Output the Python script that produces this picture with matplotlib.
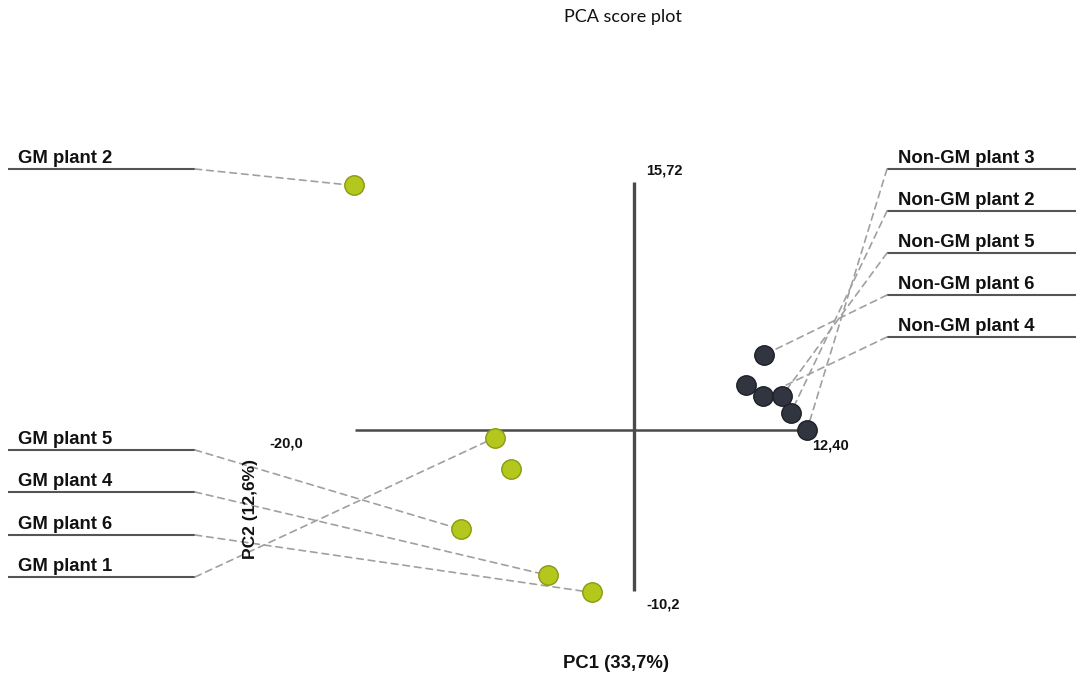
import matplotlib
matplotlib.use("Agg")
import matplotlib.pyplot as plt
from matplotlib.patches import ConnectionPatch

# ---------------- data ----------------
pc1_range = [-20.0, 12.40]
pc2_range = [-10.2, 15.72]
pc1_range_labels = ["-20,0", "12,40"]
pc2_range_labels = ["-10,2", "15,72"]

gm_names = ["GM plant 2", "GM plant 1", "GM plant 3", "GM plant 5", "GM plant 4", "GM plant 6"]
gm_pc1 = [-20.1, -10.0, -8.8, -12.4, -6.2, -3.0]
gm_pc2 = [15.5, -0.5, -2.5, -6.3, -9.2, -10.3]

ngm_names = ["Non-GM plant 6", "Non-GM plant 1", "Non-GM plant 4", "Non-GM plant 5", "Non-GM plant 2", "Non-GM plant 3"]
ngm_pc1 = [9.3, 8.0, 9.25, 10.6, 11.25, 12.4]
ngm_pc2 = [4.75, 2.85, 2.15, 2.15, 1.1, 0.0]

# labelled samples (left column / right column) in drawing order
left_labels = ["GM plant 2", "GM plant 5", "GM plant 4", "GM plant 6", "GM plant 1"]
right_labels = ["Non-GM plant 3", "Non-GM plant 2", "Non-GM plant 5", "Non-GM plant 6", "Non-GM plant 4"]

title = "PCA score plot"
xlabel = "PC1 (33,7%)"
ylabel = "PC2 (12,6%)"

# ---------------- layout ----------------
W, H = 1084, 682
fig = plt.figure(figsize=(W / 100, H / 100), dpi=100)
ax = fig.add_axes([0, 0, 1, 1])
ax.set_axis_off()

# pixel geometry of the data area
x0_px, y0_px = 634, 430
sx, sy = 13.95, 15.776
ax.set_xlim((0 - x0_px) / sx, (W - x0_px) / sx)
ax.set_ylim((y0_px - H) / sy, (y0_px - 0) / sy)

def fpx(px, py):
    return (px / W, 1 - py / H)

axis_col = "#4a4a4a"
ax.plot(pc1_range, [0, 0], color=axis_col, lw=1.8, zorder=1, solid_capstyle="butt")
ax.plot([0, 0], pc2_range, color=axis_col, lw=2.4, zorder=1, solid_capstyle="butt")

bold = dict(family=["Liberation Sans", "DejaVu Sans"], fontweight="bold", color="#111111")
ax.annotate(pc1_range_labels[0], (pc1_range[0], 0), xytext=(-52, -13), textcoords="offset pixels",
            ha="right", va="center", fontsize=10.5, **bold)
ax.annotate(pc1_range_labels[1], (pc1_range[1], 0), xytext=(5, -15), textcoords="offset pixels",
            ha="left", va="center", fontsize=10.5, **bold)
ax.annotate(pc2_range_labels[1], (0, pc2_range[1]), xytext=(12, 12), textcoords="offset pixels",
            ha="left", va="center", fontsize=10.5, **bold)
ax.annotate(pc2_range_labels[0], (0, pc2_range[0]), xytext=(12, -14), textcoords="offset pixels",
            ha="left", va="center", fontsize=10.5, **bold)

# points
green, green_edge = "#b3c71c", "#8b9a12"
dark, dark_edge = "#30353f", "#1d2028"
ax.plot(gm_pc1, gm_pc2, "o", ms=14, mfc=green, mec=green_edge, mew=1.0, ls="none", zorder=4)
ax.plot(ngm_pc1, ngm_pc2, "o", ms=14, mfc=dark, mec=dark_edge, mew=1.0, ls="none", zorder=4)

lead_col = "#a0a0a0"
under_col = "#555555"

def leader(name, xs, ys, names, line_y, side):
    i = names.index(name)
    if side == "left":
        x_a, x_b, tx, anchor = 8, 195, 18, 195
    else:
        x_a, x_b, tx, anchor = 887, 1076, 898, 887
    ax.plot([x_a / W, x_b / W], [1 - line_y / H] * 2, transform=ax.transAxes,
            color=under_col, lw=1.5, zorder=2, solid_capstyle="butt")
    ax.text(tx / W, 1 - (line_y - 6) / H, name, transform=ax.transAxes,
            ha="left", va="baseline", fontsize=13.3, **bold)
    con = ConnectionPatch(xyA=fpx(anchor, line_y), coordsA=ax.transAxes,
                          xyB=(xs[i], ys[i]), coordsB=ax.transData,
                          color=lead_col, lw=1.2, linestyle=(0, (4, 3)), zorder=3)
    ax.add_artist(con)

left_y = [169, 450, 492, 535, 577]
right_y = [169, 211, 253, 295, 337]
for name, ly in zip(left_labels, left_y):
    leader(name, gm_pc1, gm_pc2, gm_names, ly, "left")
for name, ly in zip(right_labels, right_y):
    leader(name, ngm_pc1, ngm_pc2, ngm_names, ly, "right")

fig.text(623 / W, 1 - 17 / H, title, ha="center", va="center", fontsize=13,
         family=["Lato", "DejaVu Sans"], color="#111111")
fig.text(616 / W, 1 - 663 / H, xlabel, ha="center", va="center", fontsize=13.3, **bold)
fig.text(250 / W, 1 - 509 / H, ylabel, ha="center", va="center", rotation=90, fontsize=12.5, **bold)

fig.savefig("out.png", dpi=100, facecolor="white")
